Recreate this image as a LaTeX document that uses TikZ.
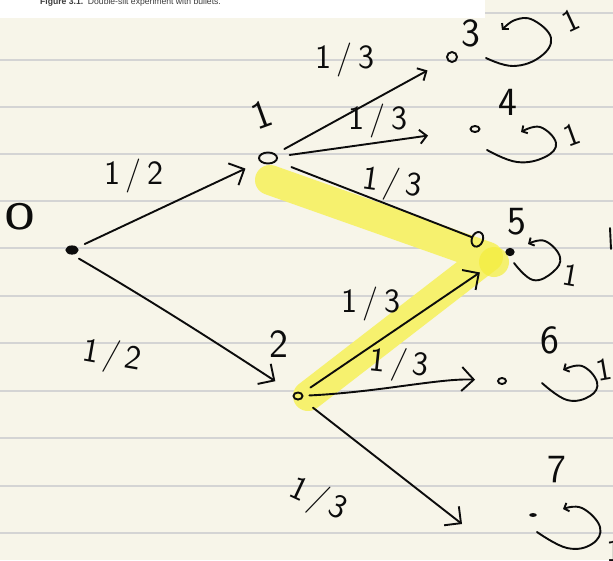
\documentclass[tikz,border=0pt]{standalone}
\usepackage{fontspec}
\newfontfamily\capfont{Liberation Sans}
\usetikzlibrary{arrows.meta,shapes.geometric}
\definecolor{paper}{RGB}{247,245,233}
\definecolor{rulecol}{RGB}{212,212,212}
\definecolor{hl}{RGB}{246,241,110}
\definecolor{hlcore}{RGB}{244,238,60}
\definecolor{ink}{RGB}{12,12,12}
\definecolor{capcol}{RGB}{60,60,60}
\begin{document}
\begin{tikzpicture}[x=1pt,y=-1pt,
  pen/.style={draw=ink,line width=1.9pt,line cap=round,line join=round},
  bigarrow/.style={pen,-{Straight Barb[length=12pt,width=24pt]}},
  smallarrow/.style={pen,-{Straight Barb[length=7pt,width=14pt]}},
  ringarrow/.style={pen,-{Ellipse[open,length=13pt,width=17pt]}},
  looppen/.style={pen,-{Straight Barb[length=4pt,width=9pt]}},
  lbl/.style={font=\sffamily\fontsize{34}{38}\selectfont,text=ink,inner sep=0pt},
  nodelbl/.style={font=\sffamily\fontsize{40}{44}\selectfont,text=ink,inner sep=0pt},
  smalllbl/.style={font=\sffamily\fontsize{32}{36}\selectfont,text=ink,inner sep=0pt},
  ring/.style={ellipse,draw=ink,line width=1.9pt,inner sep=0pt},
  blob/.style={ellipse,draw=ink,fill=ink,line width=1.2pt,inner sep=0pt}
]
\useasboundingbox (0,0) rectangle (613,560);
\fill[paper] (0,0) rectangle (613,560);
\fill[white] (0,0) rectangle (485,18);
\foreach \yy in {60,107,154,201,248,296,343,391,438,486,533}
  \draw[rulecol,line width=1.2pt] (0,\yy) -- (613,\yy);
\draw[rulecol,line width=1.2pt] (485,13) -- (613,13);

\node[anchor=base west,inner sep=0pt,font=\capfont\fontsize{8.6}{10}\selectfont,text=capcol] (cap) at (40,4)
  {\textbf{Figure 3.1.}\ \ Double-slit experiment with bullets.};

% highlight
\draw[hl,line width=30pt,line cap=round,line join=round] (270,180) -- (488,257) -- (308,396);
\fill[hlcore,opacity=0.7] (494,262) circle (15);

% nodes
\node[blob,minimum width=12pt,minimum height=8pt] (n0) at (72,250) {};
\node[ring,minimum width=18pt,minimum height=11pt] (n1) at (268,158) {};
\node[ring,minimum width=9pt,minimum height=7pt] (n2) at (298,396) {};
\node[ring,minimum width=10pt,minimum height=10pt] (t3) at (452,57) {};
\node[ring,minimum width=9pt,minimum height=6pt] (t4) at (475,129) {};
\node[blob,minimum width=8pt,minimum height=7pt] (t5) at (510,252) {};
\node[ring,minimum width=8pt,minimum height=6pt] (t6) at (502,381) {};
\node[blob,minimum width=6pt,minimum height=2.5pt] (t7) at (533,515) {};

% node labels
\node[text=ink,inner sep=0pt,font=\sffamily\fontsize{30}{34}\selectfont] (ln0) at (20,217) {\scalebox{2.2}[1.3]{0}};
\node[nodelbl,rotate=20] (ln1) at (262,115) {1};
\node[nodelbl] (ln2) at (279,344) {2};
\node[nodelbl] (ln3) at (471,33) {3};
\node[nodelbl] (ln4) at (508,102) {4};
\node[nodelbl] (ln5) at (517,222) {5};
\node[nodelbl] (ln6) at (550,340) {6};
\node[nodelbl] (ln7) at (557,470) {7};

% edges
\coordinate (a7) at (462,524);
\draw[bigarrow,shorten <=8pt,shorten >=16pt] (n0) -- (n1);
\draw[bigarrow,shorten <=8pt,shorten >=22pt] (n0.south) .. controls (150,300) and (220,345) .. (n2);
\draw[smallarrow,shorten <=10pt,shorten >=22pt] (n1) -- (t3);
\draw[smallarrow,shorten <=12pt,shorten >=42pt] (n1) -- (t4);
\draw[ringarrow,shorten <=16pt,shorten >=24pt] (n1) -- (t5);
\draw[bigarrow,shorten <=10pt,shorten >=32pt] (n2) -- (t5);
\draw[bigarrow,shorten <=6pt,shorten >=22pt] (n2) .. controls (380,392) and (440,378) .. (t6);
\draw[bigarrow,shorten <=14pt] (n2) -- (a7);

% edge labels
\node[lbl] (l01) at (134,176) {1\,/\,2};
\node[lbl,rotate=-10] (l02) at (112,357) {1\,/\,2};
\node[lbl] (l13) at (345,60) {1\,/\,3};
\node[lbl] (l14) at (378,121) {1\,/\,3};
\node[lbl,rotate=-8] (l15) at (392,184) {1\,/\,3};
\node[lbl] (l25) at (371,304) {1\,/\,3};
\node[lbl,rotate=-6] (l26) at (399,365) {1\,/\,3};
\node[lbl,rotate=-25] (l27) at (318,500) {1\,/\,3};

% self-loops
\coordinate (s3) at (486,58);  \coordinate (e3) at (502,30);
\coordinate (s4) at (487,150); \coordinate (e4) at (521,132);
\coordinate (s5) at (514,263); \coordinate (e5) at (528,244);
\coordinate (s6) at (542,383); \coordinate (e6) at (563,370);
\coordinate (s7) at (537,532); \coordinate (e7) at (563,509);
\draw[looppen] plot[smooth,tension=0.7] coordinates {(s3) (513,66) (540,57) (551,38) (533,20) (515,20) (e3)};
\draw[looppen] plot[smooth,tension=0.7] coordinates {(s4) (517,162) (545,157) (556,143) (540,127) (e4)};
\draw[looppen] plot[smooth,tension=0.7] coordinates {(s5) (533,280) (553,272) (560,257) (545,241) (e5)};
\draw[looppen] plot[smooth,tension=0.7] coordinates {(s6) (567,400) (590,396) (597,382) (582,366) (e6)};
\draw[looppen] plot[smooth,tension=0.7] coordinates {(s7) (567,548) (592,544) (600,527) (582,508) (e7)};

% loop weights
\node[smalllbl,rotate=25] (w3) at (571,21) {1};
\node[smalllbl,rotate=20] (w4) at (572,135) {1};
\node[smalllbl,rotate=-10] (w5) at (571,275) {1};
\node[smalllbl,rotate=10] (w6) at (604,370) {1};
\node[smalllbl] (w7) at (614,551) {1};

% stroke fragment at right edge
\draw[pen] (610,228) -- (611,249);
\end{tikzpicture}
\end{document}
